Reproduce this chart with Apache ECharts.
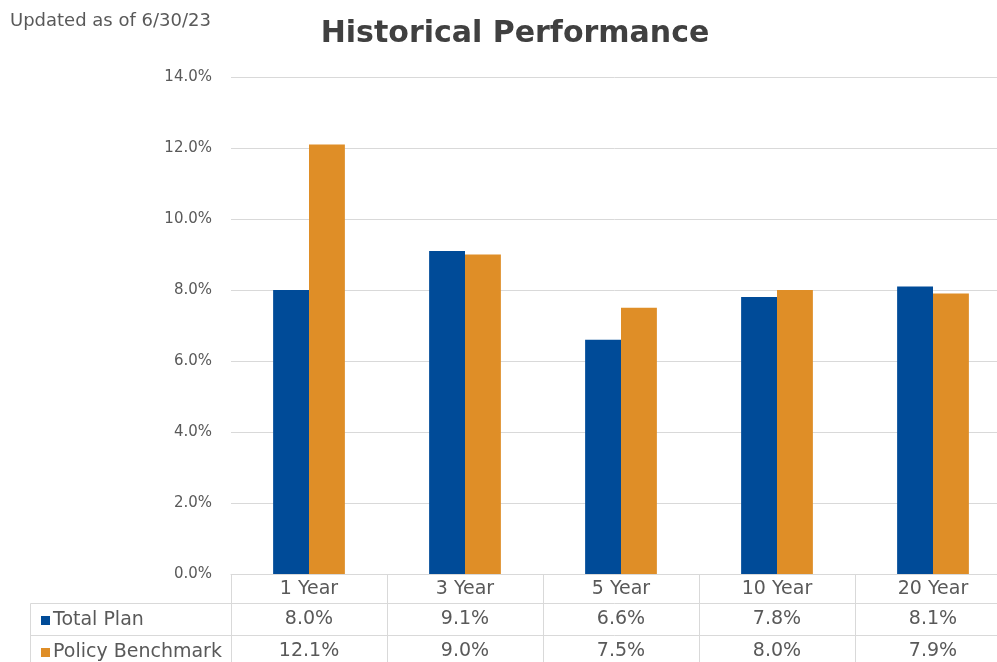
<!DOCTYPE html>
<html>
<head>
<meta charset="utf-8">
<script src="https://cdn.jsdelivr.net/npm/echarts@6/dist/echarts.min.js"></script>
<style>
html,body{margin:0;padding:0;background:#fff;}
#chart{width:997px;height:662px;}
</style>
</head>
<body>
<div id="chart"></div>
<script>
var categories = ['1 Year', '3 Year', '5 Year', '10 Year', '20 Year'];
var totalPlan = [8.0, 9.1, 6.6, 7.8, 8.1];
var policyBenchmark = [12.1, 9.0, 7.5, 8.0, 7.9];
var seriesNames = ['Total Plan', 'Policy Benchmark'];
var yTicks = [0, 2, 4, 6, 8, 10, 12, 14];

var FONT = 'DejaVu Sans, Verdana, sans-serif';
var TXT = '#595959';
var LINE = '#d9d9d9';
var pct = function (v) { return v.toFixed(1) + '%'; };

var chart = echarts.init(document.getElementById('chart'));
var legendCommon = {
  orient: 'horizontal', left: 36,
  itemWidth: 9, itemHeight: 9,
  icon: 'rect',
  selectedMode: false,
  textStyle: { fontSize: 19, color: TXT, fontFamily: FONT, padding: [0, 0, 0, -2] }
};
var option = {
  animation: false,
  backgroundColor: '#fff',
  textStyle: { fontFamily: FONT },
  title: [
    { text: 'Historical Performance', left: 510, top: 14, textAlign: 'center',
      textStyle: { fontSize: 30, fontWeight: 'bold', color: '#404040', fontFamily: FONT } },
    { text: 'Updated as of 6/30/23', left: 5, top: 7,
      textStyle: { fontSize: 18, fontWeight: 'normal', color: TXT, fontFamily: FONT } }
  ],
  legend: [
    Object.assign({}, legendCommon, { top: 606, data: [seriesNames[0]] }),
    Object.assign({}, legendCommon, { top: 638, data: [seriesNames[1]] })
  ],
  grid: { left: 231, top: 77, width: 780, height: 497, containLabel: false, outerBoundsMode: 'none' },
  xAxis: [
    { type: 'category', data: categories, position: 'bottom',
      axisLine: { show: true, lineStyle: { color: LINE } },
      axisTick: { show: true, length: 90, alignWithLabel: false, lineStyle: { color: LINE } },
      axisLabel: { fontSize: 19, color: TXT, margin: 6, fontFamily: FONT } },
    { type: 'category', data: categories, position: 'bottom', offset: 29,
      axisLine: { show: true, lineStyle: { color: LINE } },
      axisTick: { show: false },
      axisLabel: { fontSize: 19, color: TXT, margin: 7, fontFamily: FONT,
        formatter: function (v, i) { return pct(totalPlan[i]); } } },
    { type: 'category', data: categories, position: 'bottom', offset: 61,
      axisLine: { show: true, lineStyle: { color: LINE } },
      axisTick: { show: false },
      axisLabel: { fontSize: 19, color: TXT, margin: 7, fontFamily: FONT,
        formatter: function (v, i) { return pct(policyBenchmark[i]); } } }
  ],
  yAxis: {
    type: 'value', min: yTicks[0], max: yTicks[yTicks.length - 1], interval: 2,
    axisLine: { show: false }, axisTick: { show: false },
    splitLine: { lineStyle: { color: LINE } },
    axisLabel: { fontSize: 15, color: TXT, margin: 19, fontFamily: FONT, formatter: pct }
  },
  series: [
    { name: seriesNames[0], type: 'bar', data: totalPlan, barGap: '0%', barCategoryGap: '54%',
      itemStyle: { color: '#004B98' } },
    { name: seriesNames[1], type: 'bar', data: policyBenchmark, barGap: '0%', barCategoryGap: '54%',
      itemStyle: { color: '#DF8E27' } }
  ],
  graphic: [
    { type: 'line', shape: { x1: 30.5, y1: 603.5, x2: 231, y2: 603.5 }, style: { stroke: LINE, lineWidth: 1 } },
    { type: 'line', shape: { x1: 30.5, y1: 635.5, x2: 231, y2: 635.5 }, style: { stroke: LINE, lineWidth: 1 } },
    { type: 'line', shape: { x1: 30.5, y1: 603.5, x2: 30.5, y2: 662 }, style: { stroke: LINE, lineWidth: 1 } }
  ]
};
chart.setOption(option);
</script>
</body>
</html>
